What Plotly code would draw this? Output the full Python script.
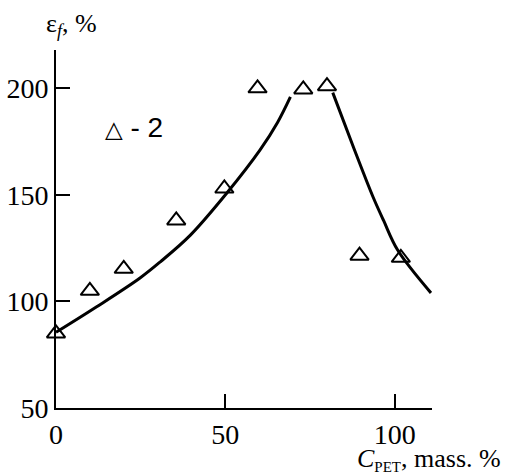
import plotly.graph_objects as go

# Experimental points (series 2, triangles)
pts_x = [0, 10, 20, 35.5, 49.7, 59.5, 73, 80, 89.6, 101.8]
pts_y = [85, 105, 115.3, 138, 153, 200, 199.5, 201, 121.5, 120.5]

# Curve 1, left branch
c1a_x = [0, 12, 24.8, 30.8, 39.6, 50.5, 60.2, 65.4, 69.2]
c1a_y = [85.5, 97.5, 111, 118.6, 131, 151, 171, 184, 196]
# Curve 1, right branch
c1b_x = [81.7, 87.9, 93.6, 96.7, 100.9, 110.7]
c1b_y = [198, 172, 149, 138, 124, 104]

x_ticks = [0, 50, 100]
y_ticks = [50, 100, 150, 200]

SERIF = "Liberation Serif, Times New Roman, serif"

fig = go.Figure()
for cx, cy in [(c1a_x, c1a_y), (c1b_x, c1b_y)]:
    fig.add_trace(go.Scatter(x=cx, y=cy, mode="lines",
                             line=dict(color="black", width=3, shape="spline", smoothing=1.0),
                             showlegend=False, cliponaxis=False, hoverinfo="skip"))
fig.add_trace(go.Scatter(x=pts_x, y=pts_y, mode="markers",
                         marker=dict(symbol="triangle-up-open", size=16, color="black",
                                     line=dict(width=2, color="black")),
                         showlegend=False, cliponaxis=False))

fig.update_layout(
    width=510, height=475,
    margin=dict(l=56, r=78, t=50, b=67, autoexpand=False),
    plot_bgcolor="white", paper_bgcolor="white",
    font=dict(family=SERIF, size=28, color="black"),
    xaxis=dict(range=[0, 111], tickvals=x_ticks, ticks="inside", ticklen=14, tickwidth=2,
               tickcolor="black", showline=True, linecolor="black", linewidth=2,
               showgrid=False, zeroline=False, automargin=False,
               tickfont=dict(family=SERIF, size=28)),
    yaxis=dict(range=[50, 218], tickvals=y_ticks, ticks="inside", ticklen=14, tickwidth=2,
               tickcolor="black", showline=True, linecolor="black", linewidth=2,
               showgrid=False, zeroline=False, automargin=False,
               tickfont=dict(family=SERIF, size=28)),
    annotations=[
        dict(text="ε<sub><i>f</i></sub>, %", xref="paper", yref="paper",
             x=-12/376, y=1 + 25/358, xanchor="left", yanchor="middle",
             showarrow=False, font=dict(family=SERIF, size=26)),
        dict(text='<i>C</i><sub><span style="font-size:15px">PET</span></sub>, mass. %',
             xref="paper", yref="paper",
             x=(503-56)/376, y=-(459-408)/358, xanchor="right", yanchor="middle",
             showarrow=False, font=dict(family=SERIF, size=26)),
        dict(text="1", x=114.4, y=99.3, xref="x", yref="y", showarrow=False,
             font=dict(family=SERIF, size=28)),
        dict(text='<span style="font-size:23px">△</span> - 2', xref="paper", yref="paper",
             x=(103-56)/376, y=1 - (127-50)/358, xanchor="left", yanchor="middle",
             showarrow=False, font=dict(family="Liberation Sans, DejaVu Sans, sans-serif", size=28)),
    ],
)

fig.write_html("out.html", config={"displayModeBar": False},
               post_script="document.body.style.margin='0';document.body.style.overflow='hidden';")
